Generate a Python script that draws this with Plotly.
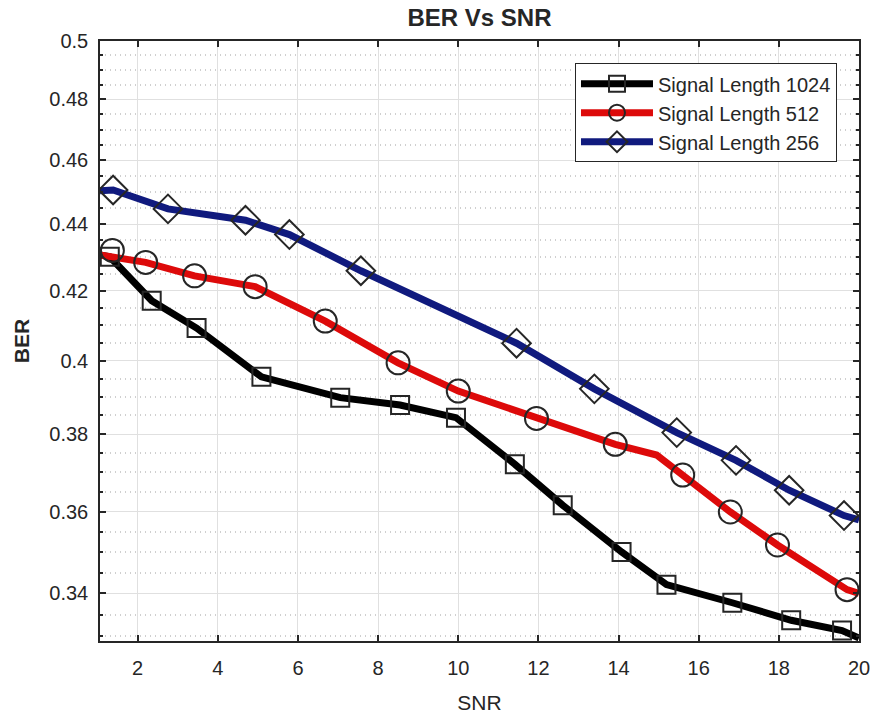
import math
import plotly.graph_objects as go

# ---- data -------------------------------------------------------------
series_names = ["Signal Length 1024", "Signal Length 512", "Signal Length 256"]

# marker samples (SNR, BER)
snr_1024 = [1.304, 2.350, 3.470, 5.088, 7.055, 8.548, 9.943, 11.412, 12.607,
            14.075, 15.196, 16.839, 18.308, 19.577]
ber_1024 = [0.4301, 0.4171, 0.4092, 0.3955, 0.3898, 0.3878, 0.3844, 0.3721,
            0.3616, 0.3500, 0.3421, 0.3378, 0.3337, 0.3313]

snr_512 = [1.369, 2.200, 3.420, 4.931, 6.681, 8.498, 10.000, 11.952, 13.918,
           15.601, 16.789, 17.966, 19.701]
ber_512 = [0.4320, 0.4284, 0.4244, 0.4212, 0.4112, 0.3994, 0.3916, 0.3842,
           0.3773, 0.3693, 0.3599, 0.3517, 0.3409]

snr_256 = [1.387, 2.756, 4.690, 5.786, 7.570, 11.454, 13.396, 15.452, 16.931,
           18.257, 19.626]
ber_256 = [0.4506, 0.4447, 0.4412, 0.4368, 0.4259, 0.4049, 0.3922, 0.3804,
           0.3731, 0.3654, 0.3590]

# full BER curves (denser than the markers)
curve_snr_1024 = [1.06] + snr_1024 + [20.0]
curve_ber_1024 = [0.4306] + ber_1024 + [0.3296]

curve_snr_512 = [1.06, 2.200, 3.420, 4.931, 6.681, 8.498, 10.000, 11.952,
                 13.918, 14.950, 15.601, 16.789, 17.966, 19.701, 20.0]
curve_ber_512 = [0.4306, 0.4284, 0.4244, 0.4212, 0.4112, 0.3994, 0.3916,
                 0.3842, 0.3773, 0.3745, 0.3693, 0.3599, 0.3517, 0.3409, 0.3400]

curve_snr_256 = [1.06] + snr_256 + [20.0]
curve_ber_256 = [0.4504] + ber_256 + [0.3579]

x_ticks = [2, 4, 6, 8, 10, 12, 14, 16, 18, 20]
y_ticks = [0.34, 0.36, 0.38, 0.40, 0.42, 0.44, 0.46, 0.48, 0.50]
y_tick_text = ["0.34", "0.36", "0.38", "0.4", "0.42", "0.44", "0.46", "0.48", "0.5"]
y_minor = [round(0.33 + 0.005 * i, 3) for i in range(35)]
y_minor = [v for v in y_minor if v not in y_ticks]

x_range = [1.06, 20.0]
y_range = [0.3289, 0.5]

# ---- styles -----------------------------------------------------------
FONT = "Liberation Sans, Arial, Helvetica, sans-serif"
INK = "#262626"
line_colors = ["#000000", "#dd0a0a", "#101a7e"]
symbols = ["square-open", "circle-open", "diamond-open"]
marker_sizes = [18, 23, 22]
curves = [(curve_snr_1024, curve_ber_1024), (curve_snr_512, curve_ber_512),
          (curve_snr_256, curve_ber_256)]
marks = [(snr_1024, ber_1024), (snr_512, ber_512), (snr_256, ber_256)]

fig = go.Figure()

for i, name in enumerate(series_names):
    cx, cy = curves[i]
    fig.add_trace(go.Scatter(
        x=cx, y=cy, mode="lines", name=name, legendgroup=name,
        showlegend=False, line=dict(color=line_colors[i], width=7),
        hoverinfo="skip"))

for i, name in enumerate(series_names):
    mx, my = marks[i]
    fig.add_trace(go.Scatter(
        x=mx, y=my, mode="markers", name=name, legendgroup=name,
        showlegend=False,
        marker=dict(symbol=symbols[i], size=marker_sizes[i], color=INK,
                    line=dict(color=INK, width=2))))

# legend entries: line with its marker
for i, name in enumerate(series_names):
    fig.add_trace(go.Scatter(
        x=[None], y=[None], mode="lines+markers", name=name, legendgroup=name,
        line=dict(color=line_colors[i], width=7),
        marker=dict(symbol=symbols[i], size=marker_sizes[i], color=INK,
                    line=dict(color=INK, width=2))))

fig.update_layout(
    width=873, height=714,
    margin=dict(l=100, r=14, t=41, b=73, autoexpand=False),
    paper_bgcolor="white", plot_bgcolor="white",
    font=dict(family=FONT, color=INK, size=20),
    title=dict(text="<b>BER Vs SNR</b>", x=0.5, xref="paper", xanchor="center",
               y=1 - 18 / 714, yref="container", yanchor="middle",
               font=dict(family=FONT, size=24, color=INK)),
    showlegend=True,
    legend=dict(x=0.971, y=0.963, xanchor="right", yanchor="top",
                bgcolor="white", bordercolor=INK, borderwidth=1,
                font=dict(family=FONT, size=20, color=INK),
                tracegroupgap=0, itemwidth=72),
)

fig.update_xaxes(
    range=x_range, tickmode="array", tickvals=x_ticks, automargin=False,
    ticks="inside", ticklen=6, tickwidth=1.5, tickcolor=INK,
    showline=True, linecolor=INK, linewidth=1.5, mirror="ticks",
    showgrid=True, gridcolor="#e0e0e0", gridwidth=1, zeroline=False,
    tickfont=dict(size=20, color=INK), ticklabelstandoff=8,
    title=dict(text="SNR", font=dict(size=21, color=INK), standoff=18),
)

fig.update_yaxes(
    type="log", range=[math.log10(y_range[0]), math.log10(y_range[1])],
    tickmode="array", tickvals=y_ticks, ticktext=y_tick_text, automargin=False,
    ticks="inside", ticklen=6, tickwidth=1.5, tickcolor=INK,
    showline=True, linecolor=INK, linewidth=1.5, mirror="ticks",
    showgrid=True, gridcolor="#e0e0e0", gridwidth=1, zeroline=False,
    tickfont=dict(size=20, color=INK), ticklabelstandoff=6,
    minor=dict(tickmode="array", tickvals=y_minor, ticks="inside", ticklen=3,
               tickcolor=INK, showgrid=True, gridcolor="#cfcfcf",
               griddash="1px,4px", gridwidth=1.5),
    title=dict(text="<b>BER</b>", font=dict(size=21, color=INK), standoff=14),
)

fig.write_html("out.html")
